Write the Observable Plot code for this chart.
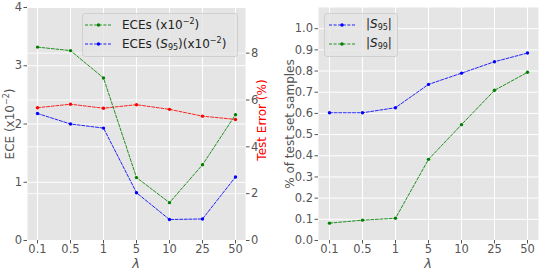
<!DOCTYPE html>
<html><head><meta charset="utf-8">
<script src="https://cdn.jsdelivr.net/npm/d3@7"></script>
<script src="https://cdn.jsdelivr.net/npm/@observablehq/plot@0.6"></script>
<style>
body{margin:0;background:#fff;font-family:"DejaVu Sans",sans-serif;}
#wrap{position:relative;width:540px;height:272px;overflow:hidden;}
.panel{position:absolute;top:0;}
.panel text{font-size:11.5px !important;font-family:"DejaVu Sans",sans-serif;}
.lab{position:absolute;white-space:nowrap;color:#555;font-size:12px;line-height:1;}
.rot{transform:translate(-50%,-50%) rotate(-90deg);}
.ctr{transform:translate(-50%,-50%);}
.legend{position:absolute;background:rgba(229,229,229,0.8);border:1px solid #d0d0d0;border-radius:3px;box-sizing:border-box;}
.legend .row{position:absolute;font-size:12px;color:#222;white-space:nowrap;line-height:1;}
.legend svg{position:absolute;}
</style>
</head><body>
<div id="wrap"></div>
<script>
const lambdas = ["0.1","0.5","1","5","10","25","50"];
const eceAll = [3.32,3.26,2.79,1.08,0.65,1.30,2.16];
const eceS95 = [2.18,2.00,1.93,0.82,0.36,0.37,1.09];
const testError = [5.67,5.82,5.65,5.80,5.60,5.31,5.17];
const s95 = [0.603,0.603,0.627,0.737,0.790,0.844,0.885];
const s99 = [0.082,0.096,0.105,0.383,0.547,0.709,0.794];
const eceTicks = [0,1,2,3,4];
const errTicks = [0,2,4,6,8];
const fracTicks = [0,0.1,0.2,0.3,0.4,0.5,0.6,0.7,0.8,0.9,1.0];

const idx = lambdas.map((_, i) => i);
const k = 4 / 9.95; // right-axis (test error %) mapped onto ECE scale
const dash = "3,1.6";
const wrap = document.getElementById("wrap");

function series(vals, color, map = v => v) {
  return [
    Plot.line(idx, {x: i => lambdas[i], y: i => map(vals[i]), stroke: color, strokeWidth: 1, strokeDasharray: dash, strokeOpacity: 0.85}),
    Plot.dot(idx, {x: i => lambdas[i], y: i => map(vals[i]), fill: color, r: 1.7, stroke: "none"})
  ];
}

const common = {
  width: 270, height: 272,
  style: {fontFamily: "DejaVu Sans, sans-serif", fontSize: "11.5px", background: "transparent", color: "#555"},
  x: {type: "point", domain: lambdas, padding: 0.3, axis: null},
};

const left = Plot.plot({
  ...common,
  marginLeft: 27, marginRight: 25, marginTop: 7, marginBottom: 32,
  y: {domain: [0, 4], axis: null},
  marks: [
    Plot.frame({fill: "#e5e5e5", stroke: "none"}),
    Plot.gridY(errTicks.map(v => v * k), {stroke: "white", strokeOpacity: 1, strokeWidth: 0.8}),
    Plot.gridY(eceTicks, {stroke: "white", strokeOpacity: 1, strokeWidth: 1}),
    Plot.gridX(lambdas, {stroke: "white", strokeOpacity: 1, strokeWidth: 1}),
    Plot.axisY(eceTicks, {anchor: "left", tickSize: 3.5, tickPadding: 2, color: "#555", tickFormat: d => String(d), label: null}),
    Plot.axisY(errTicks.map(v => v * k), {anchor: "right", tickSize: 3.5, tickPadding: 2, color: "#555", tickFormat: d => String(Math.round(d / k)), label: null}),
    Plot.axisX(lambdas, {anchor: "bottom", tickSize: 3.5, tickPadding: 1, color: "#555", label: null}),
    ...series(testError, "red", v => v * k),
    ...series(eceAll, "green"),
    ...series(eceS95, "blue"),
  ]
});
left.classList.add("panel");
left.style.left = "0px";
wrap.appendChild(left);

const right = Plot.plot({
  ...common,
  marginLeft: 48, marginRight: 2, marginTop: 7, marginBottom: 32,
  y: {domain: [0, 1.1], axis: null},
  marks: [
    Plot.frame({fill: "#e5e5e5", stroke: "none"}),
    Plot.gridY(fracTicks, {stroke: "white", strokeOpacity: 1, strokeWidth: 1}),
    Plot.gridX(lambdas, {stroke: "white", strokeOpacity: 1, strokeWidth: 1}),
    Plot.axisY(fracTicks, {anchor: "left", tickSize: 3.5, tickPadding: 2, color: "#555", tickFormat: d => d.toFixed(1), label: null}),
    Plot.axisX(lambdas, {anchor: "bottom", tickSize: 3.5, tickPadding: 1, color: "#555", label: null}),
    ...series(s99, "green"),
    ...series(s95, "blue"),
  ]
});
right.classList.add("panel");
right.style.left = "270px";
wrap.appendChild(right);

function addLabel(html, x, y, cls, extra = "") {
  const d = document.createElement("div");
  d.className = "lab " + cls;
  d.style.left = x + "px"; d.style.top = y + "px";
  d.style.cssText += extra;
  d.innerHTML = html;
  wrap.appendChild(d);
}
addLabel("ECE (x10<sup style='font-size:8px'>−2</sup>)", 9, 124, "rot");
addLabel("Test Error (%)", 262, 120, "rot", "color:red;");
addLabel("% of test set samples", 290, 124, "rot");
addLabel("<i>λ</i>", 136, 263, "ctr", "font-size:13px;");
addLabel("<i>λ</i>", 428, 263, "ctr", "font-size:13px;");

function legend(x, y, w, h, rows) {
  const box = document.createElement("div");
  box.className = "legend";
  Object.assign(box.style, {left: x + "px", top: y + "px", width: w + "px", height: h + "px"});
  rows.forEach((r, j) => {
    const cy = r.cy - y;
    const s = document.createElementNS("http://www.w3.org/2000/svg", "svg");
    s.setAttribute("width", 30); s.setAttribute("height", 6);
    s.style.left = (r.lx - x - 1) + "px"; s.style.top = (cy - 3 - 1) + "px";
    s.innerHTML = `<line x1="0" x2="${r.lw}" y1="3" y2="3" stroke="${r.color}" stroke-width="1" stroke-dasharray="${dash}" stroke-opacity="0.85"/><circle cx="${r.lw/2}" cy="3" r="1.7" fill="${r.color}"/>`;
    box.appendChild(s);
    const t = document.createElement("div");
    t.className = "row";
    t.style.left = (r.tx - x - 1) + "px"; t.style.top = (cy - 7 - 1) + "px";
    t.innerHTML = r.text;
    box.appendChild(t);
  });
  wrap.appendChild(box);
}
const sup = "<sup style='font-size:8px;vertical-align:5px'>−2</sup>";
legend(82, 13, 156, 44, [
  {cy: 25, lx: 85, lw: 27, tx: 122, color: "green", text: "ECEs (x10" + sup + ")"},
  {cy: 44, lx: 85, lw: 27, tx: 122, color: "blue", text: "ECEs (<i>S</i><sub style='font-size:8px;vertical-align:-2px'>95</sub>)(x10" + sup + ")"}
]);
const sub = n => "<sub style='font-size:8px;vertical-align:-2px'>" + n + "</sub>";
legend(324, 13, 74, 44, [
  {cy: 25, lx: 329, lw: 26, tx: 366, color: "blue", text: "|<i>S</i>" + sub("95") + "|"},
  {cy: 44, lx: 329, lw: 26, tx: 366, color: "green", text: "|<i>S</i>" + sub("99") + "|"}
]);
</script>
</body></html>
